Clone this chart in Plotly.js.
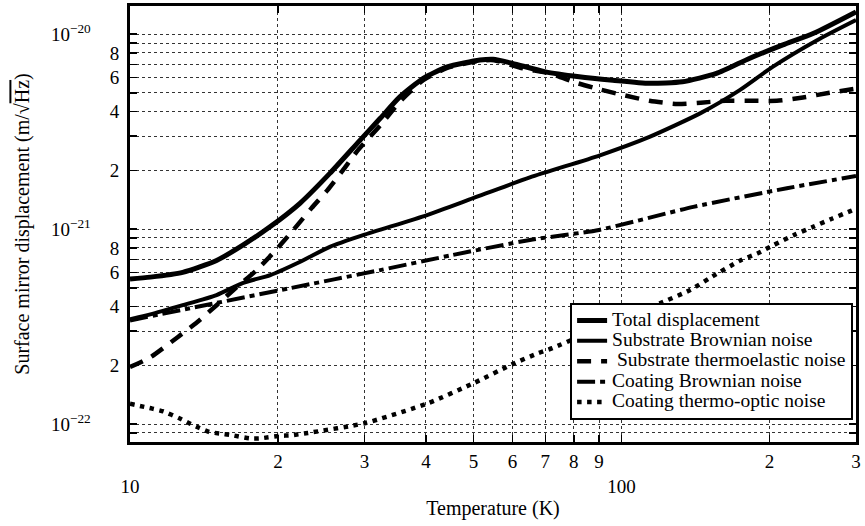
<!DOCTYPE html>
<html>
<head>
<meta charset="utf-8">
<script src="https://cdn.plot.ly/plotly-3.0.1.min.js"></script>
<style>html,body{margin:0;padding:0;background:#fff;}#chart{width:865px;height:526px;}</style>
</head>
<body>
<div id="chart"></div>
<script>
// Temperature (K) and displacement noise (m/sqrt(Hz))
const tempTotal = [10, 11, 12.8, 15, 17, 19.3, 22.2, 25.5, 29.4, 32.3, 35.4, 39.5, 44.2, 51.5, 54.8, 60, 70, 82, 96, 114, 133, 156, 182, 213, 246, 300];
const totalDisp = [5.55e-22, 5.67e-22, 6.0e-22, 6.9e-22, 8.3e-22, 1.03e-21, 1.36e-21, 1.93e-21, 2.86e-21, 3.7e-21, 4.76e-21, 5.93e-21, 6.79e-21, 7.36e-21, 7.43e-21, 7.08e-21, 6.4e-21, 6.04e-21, 5.8e-21, 5.59e-21, 5.69e-21, 6.28e-21, 7.5e-21, 8.8e-21, 1.01e-20, 1.3e-20];

const tempSubBrown = [10, 11, 12.8, 15, 17, 19.3, 22.2, 25.5, 29.8, 40.2, 49.9, 65.1, 90.4, 114, 144.5, 174, 203, 250, 300];
const subBrown = [3.45e-22, 3.65e-22, 4.07e-22, 4.59e-22, 5.3e-22, 5.81e-22, 6.8e-22, 8.1e-22, 9.3e-22, 1.18e-21, 1.44e-21, 1.84e-21, 2.39e-21, 2.97e-21, 3.92e-21, 5.16e-21, 6.79e-21, 9.3e-21, 1.18e-20];

const tempSubTE = [10, 11, 12.5, 13.85, 15, 16.5, 18.1, 19.8, 21.5, 23.4, 25.2, 27.1, 29.1, 32.3, 35.4, 39.5, 44.2, 51.5, 55, 63, 71.4, 81, 90.4, 101, 114, 130, 145, 163, 185, 207, 234, 265, 300];
const subTE = [1.96e-22, 2.2e-22, 2.79e-22, 3.41e-22, 4.07e-22, 5.05e-22, 6.16e-22, 7.8e-22, 9.9e-22, 1.28e-21, 1.58e-21, 2.0e-21, 2.54e-21, 3.4e-21, 4.5e-21, 5.8e-21, 6.7e-21, 7.3e-21, 7.35e-21, 6.67e-21, 6.28e-21, 5.62e-21, 5.2e-21, 4.86e-21, 4.55e-21, 4.38e-21, 4.45e-21, 4.55e-21, 4.55e-21, 4.55e-21, 4.73e-21, 5.0e-21, 5.25e-21];

const tempCoatBrown = [10, 15, 21.2, 32.3, 45.3, 65.1, 90, 140, 217, 300];
const coatBrown = [3.4e-22, 4.18e-22, 4.98e-22, 6.16e-22, 7.36e-22, 8.79e-22, 9.9e-22, 1.3e-21, 1.62e-21, 1.87e-21];

const tempCoatTO = [10, 11.1, 11.7, 12.6, 13.2, 13.85, 14.5, 15.2, 16, 17.5, 18.4, 20.2, 21.2, 23, 30, 40.4, 50, 60, 67.7, 72.3, 100, 108.8, 119.6, 138, 151, 174.5, 189, 204, 224, 246, 268, 293, 300];
const coatTO = [1.27e-22, 1.2e-22, 1.16e-22, 1.07e-22, 1.01e-22, 9.55e-23, 9.1e-23, 8.95e-23, 8.8e-23, 8.45e-23, 8.45e-23, 8.7e-23, 8.75e-23, 9.0e-23, 1.01e-22, 1.28e-22, 1.62e-22, 2.03e-22, 2.31e-22, 2.45e-22, 3.5e-22, 3.83e-22, 4.16e-22, 4.87e-22, 5.6e-22, 6.9e-22, 7.5e-22, 8.28e-22, 9.3e-22, 1.03e-21, 1.13e-21, 1.24e-21, 1.27e-21];

const seriesNames = ['Total displacement', 'Substrate Brownian noise', 'Substrate thermoelastic noise', 'Coating Brownian noise', 'Coating thermo-optic noise'];

// Tick labels
const xTickVals = [10, 20, 30, 40, 50, 60, 70, 80, 90, 100, 200, 300];
const xTickText = ['\u00a0<br>10', '2', '3', '4', '5', '6', '7', '8', '9', '\u00a0<br>100', '2', '3'];
const yDecades = [-23, -22, -21, -20];
const yMantissas = [1, 2, 3, 4, 5, 6, 7, 8, 9];
const yMantissaLabels = {2: '2', 4: '4', 6: '6', 8: '8'};

const yMin = Math.pow(10, -22.092), yMax = Math.pow(10, -19.856);
const yTickVals = [], yTickText = [];
yDecades.forEach(d => {
  yMantissas.forEach(m => {
    const v = m * Math.pow(10, d);
    if (v >= yMin && v <= yMax) {
      yTickVals.push(v);
      if (m === 1) yTickText.push('10<sup>\u2212' + (-d) + '</sup>' + '\u00a0'.repeat(6));
      else yTickText.push(yMantissaLabels[m] || '');
    }
  });
});

const nm = s => '<span style="font-size:19.5px">' + s + '</span>';
const common = {type: 'scatter', mode: 'lines', line: {shape: 'spline', smoothing: 0.6, color: '#000'}};

const traces = [
  Object.assign({}, common, {x: tempTotal, y: totalDisp, name: nm(seriesNames[0]), line: Object.assign({}, common.line, {width: 5})}),
  Object.assign({}, common, {x: tempSubBrown, y: subBrown, name: nm(seriesNames[1]), line: Object.assign({}, common.line, {width: 4})}),
  Object.assign({}, common, {x: tempSubTE, y: subTE, name: nm('\u00a0' + seriesNames[2]), line: Object.assign({}, common.line, {width: 4.5, dash: '14px,10px'})}),
  Object.assign({}, common, {x: tempCoatBrown, y: coatBrown, name: nm(seriesNames[3]), line: Object.assign({}, common.line, {width: 4, dash: '18px,5px,5px,5px'})}),
  Object.assign({}, common, {x: tempCoatTO, y: coatTO, name: nm(seriesNames[4]), line: Object.assign({}, common.line, {width: 4.5, dash: '4.5px,5.5px'})})
];

const axisCommon = {
  type: 'log', showline: true, linewidth: 3, linecolor: '#000', mirror: 'ticks',
  ticks: 'inside', ticklen: 7, tickwidth: 1.5, tickcolor: '#000',
  showgrid: true, gridcolor: '#333', gridwidth: 1, griddash: 'dot', zeroline: false,
  tickfont: {family: 'Liberation Serif', size: 19, color: '#000'}, tickmode: 'array'
};

const layout = {
  width: 865, height: 526,
  margin: {l: 130, r: 9, t: 6, b: 84},
  paper_bgcolor: '#fff', plot_bgcolor: '#fff',
  font: {family: 'Liberation Serif', color: '#000'},
  showlegend: true,
  xaxis: Object.assign({}, axisCommon, {
    range: [1, Math.log10(300)], tickvals: xTickVals, ticktext: xTickText, tickangle: 0,
    title: {text: 'Temperature (K)', font: {family: 'Liberation Serif', size: 20, color: '#000'}, standoff: 6}
  }),
  yaxis: Object.assign({}, axisCommon, {
    range: [-22.092, -19.856], tickvals: yTickVals, ticktext: yTickText, ticklabelstandoff: 4,
    title: {text: 'Surface mirror displacement (m/\u221a<span style="text-decoration:overline">Hz</span>)', font: {family: 'Liberation Serif', size: 20, color: '#000'}, standoff: 16}
  }),
  legend: {
    x: 0.996, xanchor: 'right', y: 0.05, yanchor: 'bottom',
    bgcolor: '#fff', bordercolor: '#000', borderwidth: 2,
    font: {family: 'Liberation Serif', size: 13.4, color: '#000'},
    traceorder: 'normal', itemwidth: 30
  }
};

Plotly.newPlot('chart', traces, layout, {displayModeBar: false, staticPlot: true});
</script>
</body>
</html>
